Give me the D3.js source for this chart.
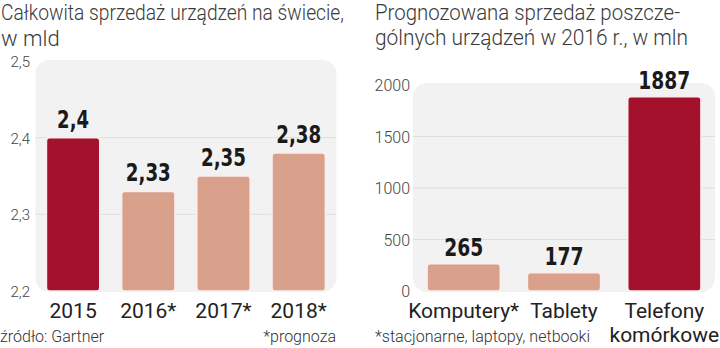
<!DOCTYPE html>
<html><head><meta charset="utf-8">
<script src="https://cdn.jsdelivr.net/npm/d3@7"></script>
<style>
html,body{margin:0;padding:0;background:#fff;}
svg{display:block;}
</style></head>
<body>
<script>
// ---- data ----
const leftCategories = ["2015", "2016*", "2017*", "2018*"];
const leftValues = [2.4, 2.33, 2.35, 2.38];
const leftLabels = ["2,4", "2,33", "2,35", "2,38"];
const leftTicks = [2.2, 2.3, 2.4, 2.5];
const leftTickLabels = ["2,2", "2,3", "2,4", "2,5"];
const leftHighlight = [true, false, false, false];

const rightCategories = ["Komputery*", "Tablety", "Telefony komórkowe"];
const rightCategoryLines = [["Komputery*"], ["Tablety"], ["Telefony", "komórkowe"]];
const rightValues = [265, 177, 1887];
const rightLabels = ["265", "177", "1887"];
const rightTicks = [0, 500, 1000, 1500, 2000];
const rightTickLabels = ["0", "500", "1000", "1500", "2000"];
const rightHighlight = [false, false, true];

const leftTitle = ["Całkowita sprzedaż urządzeń na świecie,", "w mld"];
const rightTitle = ["Prognozowana sprzedaż poszcze-", "gólnych urządzeń w 2016 r., w mln"];
const leftSource = "źródło: Gartner";
const leftNote = "*prognoza";
const rightNote = "*stacjonarne, laptopy, netbooki";

// ---- style ----
const RED = "#a3112d", SALMON = "#d9a18c", PANEL = "#f2f2f2", GRID = "#dedede";
const TXT = "#222", LIGHT = "#444";
const valueFont = "'DejaVu Sans Condensed','DejaVu Sans',sans-serif";
const textFont = "Roboto,'Noto Sans',sans-serif";

const svg = d3.select("body").append("svg").attr("width", 720).attr("height", 348);

function title(lines, x, ys, widths) {
  lines.forEach((t, i) => {
    const el = svg.append("text").attr("x", x).attr("y", ys[i]).text(t)
      .attr("font-family", textFont).attr("font-size", 22).attr("font-weight", 300)
      .attr("fill", "#3a3a3a");
    if (widths[i]) el.attr("textLength", widths[i]).attr("lengthAdjust", "spacingAndGlyphs");
  });
}

function labelWidth(s) {
  let w = 0;
  for (const c of s) w += (c === ",") ? 6 : 13;
  return w;
}

function chart(cfg) {
  const x = d3.scaleBand().domain(cfg.cats).range(cfg.xRange)
    .paddingInner(cfg.pi).paddingOuter(cfg.po);
  const y = d3.scaleLinear().domain(cfg.domain).range([291, cfg.yTop]);
  const g = svg.append("g");
  g.append("rect").attr("x", cfg.xRange[0]).attr("y", cfg.panelTop)
    .attr("width", cfg.xRange[1] - cfg.xRange[0]).attr("height", 292 - cfg.panelTop)
    .attr("rx", 14).attr("fill", PANEL);
  g.selectAll("line.grid").data(cfg.ticks.slice(1, -1)).enter().append("line")
    .attr("x1", cfg.xRange[0]).attr("x2", cfg.xRange[1])
    .attr("y1", d => y(d)).attr("y2", d => y(d))
    .attr("stroke", GRID).attr("stroke-width", 1);
  const ax = d3.axisLeft(y).tickValues(cfg.ticks).tickSize(0).tickPadding(0)
    .tickFormat((d, i) => cfg.tickLabels[i]);
  const axg = g.append("g").attr("transform", `translate(${cfg.axisX},0)`).call(ax);
  axg.select(".domain").remove();
  axg.selectAll("text").attr("font-family", textFont).attr("font-size", cfg.tickSize)
    .attr("font-weight", 300).attr("fill", LIGHT).attr("dy", "0.36em");
  g.selectAll("rect.bar").data(cfg.vals).enter().append("rect")
    .attr("x", (d, i) => x(cfg.cats[i])).attr("width", x.bandwidth())
    .attr("y", d => y(d)).attr("height", d => y(cfg.domain[0]) - y(d))
    .attr("rx", 3).attr("fill", (d, i) => cfg.hl[i] ? RED : SALMON)
    .attr("stroke", "#fbecee").attr("stroke-width", 1.6);
  g.selectAll("text.val").data(cfg.vals).enter().append("text")
    .attr("x", (d, i) => x(cfg.cats[i]) + x.bandwidth() / 2)
    .attr("y", d => y(d) - cfg.valGap)
    .attr("text-anchor", "middle").attr("font-family", valueFont)
    .attr("font-weight", 700).attr("font-size", 25).attr("fill", "#1a1a1a")
    .attr("textLength", (d, i) => labelWidth(cfg.valLabels[i]))
    .attr("lengthAdjust", "spacingAndGlyphs")
    .text((d, i) => cfg.valLabels[i]);
  cfg.catLines.forEach((lines, i) => {
    lines.forEach((t, j) => {
      g.append("text").attr("x", x(cfg.cats[i]) + x.bandwidth() / 2)
        .attr("y", 318 + j * 24).attr("text-anchor", "middle")
        .attr("font-family", textFont).attr("font-size", 21).attr("fill", TXT).text(t);
    });
  });
}

title(leftTitle, 1, [20, 46], [343, 0]);
title(rightTitle, 375, [20, 45], [305, 313]);

chart({cats: leftCategories, catLines: leftCategories.map(c => [c]), vals: leftValues,
  valLabels: leftLabels, hl: leftHighlight, domain: [2.2, 2.5], yTop: 61,
  ticks: leftTicks, tickLabels: leftTickLabels, xRange: [35.5, 336.3], pi: 0.29, po: 0.145,
  panelTop: 60, axisX: 30, tickSize: 15, valGap: 10});

chart({cats: rightCategories, catLines: rightCategoryLines, vals: rightValues,
  valLabels: rightLabels, hl: rightHighlight, domain: [0, 2000], yTop: 85,
  ticks: rightTicks, tickLabels: rightTickLabels, xRange: [413, 715], pi: 0.27, po: 0.14,
  panelTop: 83, axisX: 410, tickSize: 16, valGap: 8});

svg.append("text").attr("x", 0).attr("y", 342).text(leftSource)
  .attr("font-family", textFont).attr("font-size", 16).attr("font-weight", 300).attr("fill", "#333");
svg.append("text").attr("x", 336).attr("y", 342).attr("text-anchor", "end").text(leftNote)
  .attr("font-family", textFont).attr("font-size", 16).attr("font-weight", 300).attr("fill", "#333");
svg.append("text").attr("x", 375).attr("y", 342).text(rightNote)
  .attr("font-family", textFont).attr("font-size", 16).attr("font-weight", 300).attr("fill", "#333")
  .attr("textLength", 215).attr("lengthAdjust", "spacingAndGlyphs");
</script>
</body></html>
